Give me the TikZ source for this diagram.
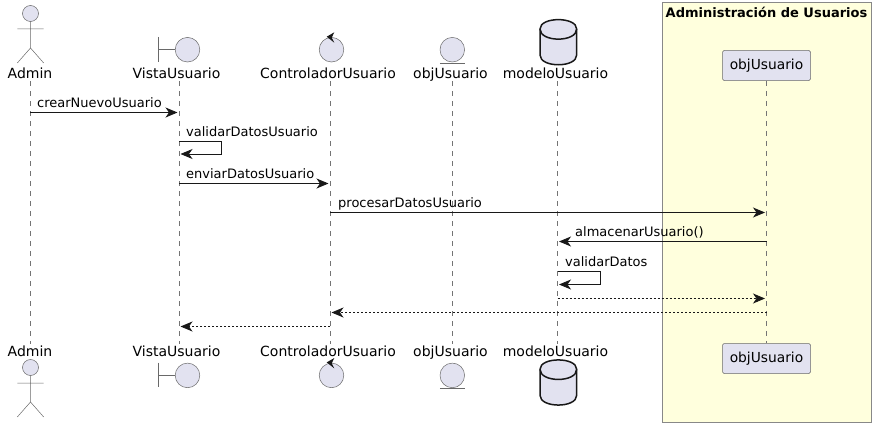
\documentclass[tikz,border=0pt]{standalone}
\usepackage{fontspec}
\setmainfont{DejaVu Sans}
\usetikzlibrary{arrows.meta}
\definecolor{partfill}{HTML}{E2E2F0}
\definecolor{partline}{HTML}{181818}
\definecolor{boxfill}{HTML}{FFFFDD}
\definecolor{boxline}{HTML}{888888}
\tikzset{
  figline/.style={draw=partline!65,line width=.5pt},
  figfill/.style={figline,fill=partfill},
  lifeline/.style={draw=partline!60,line width=.5pt,dash pattern=on 5pt off 5pt},
  msg/.style={draw=partline,line width=.9pt,-{Stealth[length=12pt,width=10pt,inset=3.5pt]},shorten >=1.5pt},
  reply/.style={msg,dash pattern=on 2pt off 2pt},
  partname/.style={font=\fontsize{14}{16}\selectfont,text=black,inner sep=0pt,anchor=base},
  msgname/.style={font=\fontsize{13}{15}\selectfont,text=black,inner sep=0pt,anchor=base west},
  partbox/.style={draw=partline!65,line width=.5pt,fill=partfill,rounded corners=1.5pt,minimum width=88pt,minimum height=30pt,inner sep=0pt,font=\fontsize{13.8}{16}\selectfont}
}
\begin{document}
\begin{tikzpicture}[x=1pt,y=-1pt]
\useasboundingbox (0,0) rectangle (875,428);
\draw[draw=boxline,line width=1pt,fill=boxfill](662.5,3)rectangle(871,422.7);
\node[font=\fontsize{13}{15}\selectfont\bfseries,inner sep=0pt,anchor=base] (boxtitle) at (766.5,18) {Administración de Usuarios};
% participants, top row
\node[partname] (admintop) at (30,78) {Admin};
\node[partname] (vistatop) at (176.5,78) {VistaUsuario};
\node[partname] (ctrltop) at (328,78) {ControladorUsuario};
\node[partname] (objtop) at (450.5,78) {objUsuario};
\node[partname] (modelotop) at (555.5,78) {modeloUsuario};
\node[partbox] (usrtop) at (766.5,65.5) {objUsuario};
% participants, bottom row
\node[partname] (adminbot) at (30,356) {Admin};
\node[partname] (vistabot) at (176.5,356) {VistaUsuario};
\node[partname] (ctrlbot) at (328,356) {ControladorUsuario};
\node[partname] (objbot) at (450.5,356) {objUsuario};
\node[partname] (modelobot) at (555.5,356) {modeloUsuario};
\node[partbox] (usrbot) at (766.5,358.5) {objUsuario};
% figures
\foreach \dy in {0,354}{
  \begin{scope}[yshift=-\dy pt]
  \draw[figfill](30.5,13.5)circle(8);
  \draw[figline](30.5,21.5)--(30.5,48)(17.3,29)--(43.7,29)(17.3,63)--(30.5,48)--(43.7,63);
  \end{scope}
}
\foreach \dy in {0,325.7}{
  \begin{scope}[yshift=-\dy pt]
  \draw[figline](158.5,37)--(158.5,61.7)(158.5,49.7)--(175,49.7);
  \draw[figfill](187.5,49.7)circle(12.3);
  \draw[figfill](331.5,49.7)circle(12.3);
  \fill[partline](326.7,36.7)--(334.3,32.3)--(331.7,37.7)--(334.3,42.7)--cycle;
  \draw[figfill](452.3,49.7)circle(12.3);
  \draw[figline](439.8,63)--(465,63);
  \end{scope}
}
\foreach \dy in {0,340.3}{
  \begin{scope}[yshift=-\dy pt]
  \draw[draw=partline,line width=1.5pt,fill=partfill](540,29)..controls (540,16.5) and (576.7,16.5)..(576.7,29)
    --(576.7,55)..controls (576.7,68) and (540,68)..(540,55)--cycle;
  \draw[draw=partline,line width=1.5pt](540,29)..controls (540,42.5) and (576.7,42.5)..(576.7,29);
  \end{scope}
}
% lifelines
\coordinate (admina) at (30,81); \coordinate (adminb) at (30,344);
\coordinate (vistaa) at (179,81); \coordinate (vistab) at (179,344);
\coordinate (ctrla) at (330,81); \coordinate (ctrlb) at (330,344);
\coordinate (obja) at (452,81); \coordinate (objb) at (452,344);
\coordinate (modeloa) at (557.5,81); \coordinate (modelob) at (557.5,344);
\foreach \who in {admin,vista,ctrl,obj,modelo}{
  \draw[lifeline](\who a)--(\who b);
}
\draw[lifeline](usrtop.south)--(usrbot.north);
% messages
\coordinate (usr) at (766.5,81);
\coordinate (m1) at (0,112.5);
\coordinate (m2a) at (221.5,141.5); \coordinate (m2b) at (221.5,154);
\coordinate (m3) at (0,183.5);
\coordinate (m4) at (0,212.5);
\coordinate (m5) at (0,241.5);
\coordinate (m6a) at (600.5,271); \coordinate (m6b) at (600.5,284.5);
\coordinate (m7) at (0,298.5);
\coordinate (m8) at (0,312.5);
\coordinate (m9) at (0,326.5);
\draw[msg](admina|-m1)--(vistaa|-m1);
\draw[msg](vistaa|-m2a)--(m2a)--(m2b)--(vistaa|-m2b);
\draw[msg](vistaa|-m3)--(ctrla|-m3);
\draw[msg](ctrla|-m4)--(usr|-m4);
\draw[msg](usr|-m5)--(modeloa|-m5);
\draw[msg](modeloa|-m6a)--(m6a)--(m6b)--(modeloa|-m6b);
\draw[reply](modeloa|-m7)--(usr|-m7);
\draw[reply](usr|-m8)--(ctrla|-m8);
\draw[reply](ctrla|-m9)--(vistaa|-m9);
% labels
\node[msgname] (t1) at (37,107) {crearNuevoUsuario};
\node[msgname] (t2) at (186,136) {validarDatosUsuario};
\node[msgname] (t3) at (186,178) {enviarDatosUsuario};
\node[msgname] (t4) at (338,207.5) {procesarDatosUsuario};
\node[msgname] (t5) at (575,236.5) {almacenarUsuario()};
\node[msgname] (t6) at (565,266) {validarDatos};
\end{tikzpicture}
\end{document}
